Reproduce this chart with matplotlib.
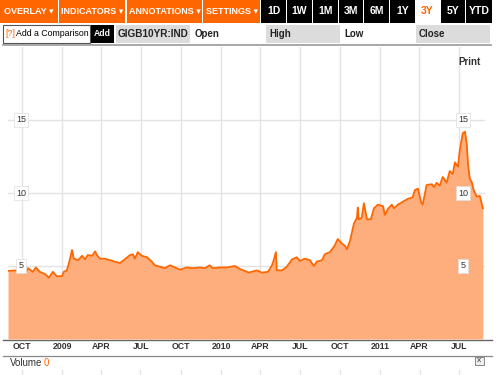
import pandas as pd
import matplotlib
matplotlib.use("Agg")
import matplotlib.pyplot as plt
from matplotlib.patches import Rectangle

plt.rcParams["font.family"] = ["Liberation Sans", "DejaVu Sans"]

# GIGB10YR:IND, 3 year view
dates = [
    "2008-08-30", "2008-09-26", "2008-10-01", "2008-10-08", "2008-10-15", "2008-10-26",
    "2008-11-02", "2008-11-11", "2008-11-23", "2008-12-02", "2008-12-11", "2008-12-20",
    "2009-01-01", "2009-01-05", "2009-01-12", "2009-01-17", "2009-01-24", "2009-01-28",
    "2009-02-07", "2009-02-16", "2009-02-23", "2009-03-01", "2009-03-11", "2009-03-18",
    "2009-03-22", "2009-03-29", "2009-04-09", "2009-04-21", "2009-05-02", "2009-05-14",
    "2009-05-25", "2009-06-06", "2009-06-13", "2009-06-17", "2009-06-24", "2009-07-03",
    "2009-07-15", "2009-07-26", "2009-08-02", "2009-08-14", "2009-08-25", "2009-09-06",
    "2009-09-17", "2009-09-29", "2009-10-15", "2009-10-28", "2009-11-14", "2009-11-25",
    "2009-12-06", "2009-12-13", "2009-12-29", "2010-01-14", "2010-02-02", "2010-02-13",
    "2010-03-06", "2010-03-24", "2010-04-05", "2010-04-19", "2010-04-28", "2010-05-02",
    "2010-05-07", "2010-05-09", "2010-05-21", "2010-06-01", "2010-06-13", "2010-06-24",
    "2010-07-01", "2010-07-12", "2010-07-24", "2010-08-02", "2010-08-09", "2010-08-21",
    "2010-08-27", "2010-09-08", "2010-09-19", "2010-09-26", "2010-10-05", "2010-10-12",
    "2010-10-17", "2010-10-24", "2010-11-02", "2010-11-09", "2010-11-11", "2010-11-13",
    "2010-11-20", "2010-11-25", "2010-12-02", "2010-12-11", "2010-12-18", "2010-12-27",
    "2011-01-08", "2011-01-12", "2011-01-19", "2011-01-28", "2011-02-02", "2011-02-11",
    "2011-02-22", "2011-03-06", "2011-03-17", "2011-03-22", "2011-03-29", "2011-04-05",
    "2011-04-09", "2011-04-18", "2011-04-30", "2011-05-05", "2011-05-11", "2011-05-18",
    "2011-05-25", "2011-06-03", "2011-06-10", "2011-06-17", "2011-06-22", "2011-06-29",
    "2011-07-03", "2011-07-10", "2011-07-15", "2011-07-19", "2011-07-22", "2011-07-26",
    "2011-07-31", "2011-08-04", "2011-08-11", "2011-08-18", "2011-08-25",
]
yields = [
    4.66, 4.72, 4.70, 4.50, 4.85, 4.60,
    4.90, 4.60, 4.45, 4.20, 4.60, 4.30,
    4.30, 4.60, 4.70, 5.20, 6.10, 5.50,
    5.40, 5.70, 5.45, 5.75, 5.70, 6.00,
    5.75, 5.50, 5.50, 5.40, 5.30, 5.20,
    5.45, 5.75, 5.80, 5.50, 5.95, 5.70,
    5.60, 5.30, 5.05, 4.95, 4.85, 5.05,
    4.90, 4.75, 4.90, 4.85, 4.90, 4.85,
    5.05, 4.85, 4.90, 4.90, 5.00, 4.80,
    4.55, 4.70, 4.55, 4.60, 5.05, 5.40,
    5.95, 4.70, 4.70, 4.95, 5.45, 5.60,
    5.35, 5.50, 5.40, 5.00, 5.30, 5.40,
    5.80, 5.95, 6.40, 6.85, 6.55, 6.40,
    6.15, 6.70, 7.90, 8.30, 9.00, 8.20,
    8.30, 9.30, 8.20, 8.20, 8.95, 9.20,
    9.10, 8.50, 8.90, 9.20, 8.95, 9.20,
    9.40, 9.60, 9.70, 10.20, 10.30, 9.40,
    9.20, 10.55, 10.60, 10.40, 10.70, 10.50,
    11.10, 10.70, 11.50, 11.30, 12.10, 11.80,
    12.90, 14.10, 14.20, 13.40, 12.00, 11.00,
    10.70, 10.20, 9.75, 9.80, 8.95,
]
tick_dates = ["2008-10-01", "2009-01-01", "2009-04-01", "2009-07-01", "2009-10-01",
              "2010-01-01", "2010-04-01", "2010-07-01", "2010-10-01", "2011-01-01",
              "2011-04-01", "2011-07-01"]
tick_labels = ["OCT", "2009", "APR", "JUL", "OCT", "2010", "APR", "JUL", "OCT",
               "2011", "APR", "JUL"]
y_ticks = [5, 10, 15]

orange = "#ff6600"
fill = "#fdae7c"
grid = "#e3e3e3"

x = pd.to_datetime(dates)

fig = plt.figure(figsize=(5, 3.75), dpi=100)
fig.patch.set_facecolor("white")

# chrome overlay in pixel coordinates
ui = fig.add_axes([0, 0, 1, 1])
ui.set_xlim(0, 500)
ui.set_ylim(375, 0)
ui.axis("off")

menus = [("OVERLAY ▾", 0, 58), ("INDICATORS ▾", 59, 125), ("ANNOTATIONS ▾", 127, 202),
         ("SETTINGS ▾", 203, 260)]
for label, a, b in menus:
    ui.add_patch(Rectangle((a, 0), b - a, 23, color=orange, lw=0))
    ui.text((a + b) / 2, 11.5, label, color="white", fontsize=6.5, fontweight="bold",
            ha="center", va="center")
ranges = [("1D", 261, 286), ("1W", 287, 312), ("1M", 313, 338), ("3M", 339, 363),
          ("6M", 364, 389), ("1Y", 390, 415), ("3Y", 415, 440), ("5Y", 441, 465),
          ("YTD", 466, 492)]
for label, a, b in ranges:
    sel = label == "3Y"
    ui.add_patch(Rectangle((a, 0), b - a, 23, color="white" if sel else "black", lw=0))
    ui.text((a + b) / 2, 11.5, label, color=orange if sel else "white", fontsize=7.5,
            fontweight="bold", ha="center", va="center")

# second row
ui.add_patch(Rectangle((3, 25), 87, 18, facecolor="white", edgecolor="#555555", lw=0.8))
ui.text(5, 34, "[?]", color=orange, fontsize=6.3, va="center")
ui.text(16, 34, "Add a Comparison", color="black", fontsize=6.3, va="center")
ui.add_patch(Rectangle((91, 25), 23, 18, color="black", lw=0))
ui.text(102.5, 34, "Add", color="white", fontsize=6.2, fontweight="bold", ha="center",
        va="center")
ui.add_patch(Rectangle((116, 25), 74, 18, color="#dcdcdc", lw=0))
ui.text(153, 34, "GIGB10YR:IND", color="#222222", fontsize=7.2, fontweight="bold",
        ha="center", va="center")
ui.text(195, 34, "Open", color="#222222", fontsize=7, fontweight="bold", va="center")
ui.add_patch(Rectangle((266, 25), 74, 18, color="#dcdcdc", lw=0))
ui.text(269, 34, "High", color="#222222", fontsize=7, fontweight="bold", va="center")
ui.text(344, 34, "Low", color="#222222", fontsize=7, fontweight="bold", va="center")
ui.add_patch(Rectangle((416, 25), 74, 18, color="#dcdcdc", lw=0))
ui.text(419, 34, "Close", color="#222222", fontsize=7, fontweight="bold", va="center")
ui.plot([3, 491], [45, 45], color="#999999", lw=1.2)

# bottom chrome
ui.plot([3, 492], [339.5, 339.5], color="#666666", lw=1.0)
ui.plot([3, 492], [356, 356], color="#888888", lw=0.9)
ui.text(10, 363, "Volume", color="#333333", fontsize=7, va="center")
ui.text(44, 363, "0", color=orange, fontsize=7, va="center")
ui.add_patch(Rectangle((475, 357), 9, 8, facecolor="#eeeeee", edgecolor="#777777", lw=0.6))
ui.text(479.5, 361, "x", color="#333333", fontsize=6, ha="center", va="center")
for t in [22, 62, 101, 140, 181, 221, 260, 300, 340, 380, 420, 459]:
    ui.plot([t, t], [370, 375], color=grid, lw=1)

# main chart
ax = fig.add_axes([8 / 500, 36 / 375, 477 / 500, 292 / 375])
ax.set_facecolor("none")
ax.fill_between(x, yields, 0, color=fill, lw=0)
ax.plot(x, yields, color=orange, lw=1.3)
ax.set_ylim(0, 20)
ax.set_xlim(pd.Timestamp("2008-08-30"), pd.Timestamp("2011-08-30"))
for t in pd.to_datetime(tick_dates):
    ax.axvline(t, color=grid, lw=1, zorder=0)
for v in y_ticks:
    ax.axhline(v, color=grid, lw=1, zorder=0)
    for xf in (0.027, 0.954):
        ax.text(xf, v, str(v), transform=ax.get_yaxis_transform(), fontsize=6.5,
                color="#333333", ha="center", va="center",
                bbox=dict(boxstyle="square,pad=0.25", fc="white", ec="#dddddd", lw=0.5))
ax.set_xticks(pd.to_datetime(tick_dates))
ax.set_xticklabels(tick_labels, fontsize=6.3, fontweight="bold", color="#333333")
ax.tick_params(axis="x", length=0, pad=2.5)
ax.set_yticks([])
for s in ax.spines.values():
    s.set_visible(False)
ax.text(0.945, 0.95, "Print", transform=ax.transAxes, fontsize=7, fontweight="bold",
        color="#333333", ha="left", va="center")

fig.savefig("out.png", dpi=100)
